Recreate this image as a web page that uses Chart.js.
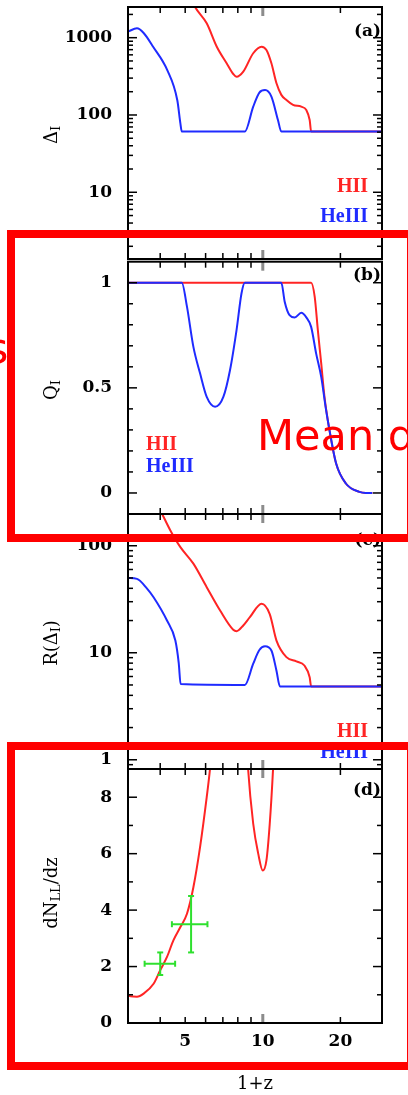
<!DOCTYPE html>
<html>
<head>
<meta charset="utf-8">
<script src="https://cdn.jsdelivr.net/npm/chart.js@4.4.1/dist/chart.umd.min.js"></script>
<style>
  html, body { margin: 0; padding: 0; background: #fff; }
  #wrap { position: relative; width: 408px; height: 1095px; overflow: hidden; }
  #wrap canvas { position: absolute; left: 0; top: 0; }
  .box { position: absolute; border: 8px solid #ff0000; box-sizing: border-box; }
  .note { position: absolute; color: #ff0000; font: 43px "DejaVu Sans"; line-height: 43px; white-space: nowrap; }
</style>
</head>
<body>
<div id="wrap">
  <canvas id="panelA" width="408" height="1095"></canvas>
  <canvas id="panelB" width="408" height="1095"></canvas>
  <canvas id="panelC" width="408" height="1095"></canvas>
  <canvas id="panelD" width="408" height="1095"></canvas>
  <div class="box" style="left:7px;top:230px;width:408px;height:312px"></div>
  <div class="box" style="left:7px;top:742px;width:408px;height:328px"></div>
  <div class="note" style="left:257px;top:414px">Mean d</div>
  <div class="note" style="left:-14px;top:327px">s</div>
</div>
<script>
// (a) Delta_I vs 1+z
const zDeltaHII = [5.3, 5.46, 6.06, 6.63, 7.24, 7.68, 7.91, 8.4, 9.18, 9.89, 10.33, 10.8, 11.3, 11.8, 12.35, 13.1, 14.1, 14.75, 15.2, 15.4, 29];
const deltaHII = [3100, 2500, 1535, 765, 467, 339, 312, 363, 629, 765, 693, 466, 257, 182, 156, 135, 128, 116, 86, 61, 61];
const zDeltaHeIII = [3.0, 3.25, 3.45, 3.76, 4.26, 4.66, 4.79, 4.85, 8.52, 9.18, 9.7, 10.2, 10.8, 11.45, 11.8, 29];
const deltaHeIII = [1200, 1320, 1150, 757, 380, 155, 78, 61, 61, 128, 195, 210, 173, 86, 61, 61];

// (b) Q_I
const zQHII = [3.0, 15.4, 15.9, 16.35, 16.85, 17.35, 18.14, 19.25, 21.0, 23.7, 25.1, 26.6];
const qHII = [1, 1, 0.933, 0.775, 0.616, 0.457, 0.299, 0.14, 0.045, 0.005, 0, 0];
const zQHeIII = [3.0, 4.85, 5.08, 5.38, 5.71, 6.06, 6.53, 7.03, 7.46, 7.91, 8.27, 8.52, 11.8, 12.16, 12.7, 13.3, 14.1, 14.75, 15.4, 16.1, 16.85, 17.6, 18.14, 19.25, 21.0, 23.7, 25.1, 26.6];
const qHeIII = [1, 1, 0.886, 0.695, 0.569, 0.457, 0.41, 0.457, 0.584, 0.775, 0.95, 1, 1, 0.91, 0.846, 0.835, 0.857, 0.835, 0.79, 0.664, 0.552, 0.394, 0.299, 0.14, 0.045, 0.005, 0, 0];

// (c) R(Delta_I)
const zRHII = [4.0, 4.07, 4.38, 4.79, 5.38, 6.06, 6.83, 7.68, 7.91, 8.4, 8.91, 9.89, 10.64, 11.3, 12.35, 13.5, 14.5, 15.2, 15.4, 29];
const rHII = [215, 198, 139, 97, 68, 41, 24.8, 16.4, 15.9, 18, 21.5, 28.7, 23, 13, 9.1, 8.3, 7.6, 5.9, 4.85, 4.85];
const zRHeIII = [3.0, 3.25, 3.55, 3.77, 4.25, 4.58, 4.72, 4.8, 8.52, 9.18, 9.7, 10.2, 10.8, 11.3, 11.65, 29];
const rHeIII = [50, 49, 40, 33, 20, 13, 8, 5.1, 5.0, 7.9, 10.6, 11.5, 10.5, 6.8, 4.85, 4.85];

// (d) dN_LL/dz, model and observed points
const zLLS = [3.0, 3.07, 3.25, 3.45, 3.77, 4.0, 4.25, 4.5, 4.79, 5.08, 5.38, 5.71, 6.06, 6.24, 6.45, 7.5, 8.6, 8.77, 9.18, 9.6, 10.0, 10.33, 10.64, 10.96, 11.15];
const dNdz = [0.97, 0.945, 0.93, 1.04, 1.39, 1.87, 2.34, 2.93, 3.4, 3.87, 4.81, 6.23, 8.0, 9.0, 10.5, null, 10.5, 9.0, 7.06, 6.0, 5.4, 5.76, 7.06, 9.0, 10.5];
const obsZ = [4.0, 5.27];
const obsZlo = [3.48, 4.44];
const obsZhi = [4.57, 6.1];
const obsN = [2.1, 3.5];
const obsNlo = [1.7, 2.5];
const obsNhi = [2.5, 4.5];

const xLabels = [5, 10, 20];
const xMinor = [4, 5, 6, 7, 8, 9, 10, 20];

const RED = '#ff2424';
const BLUE = '#1f2bff';
const GREEN = '#2ee02e';
const TICK_FONT = { family: 'DejaVu Serif', size: 17, weight: 'bold' };

const pts = (xs, ys) => xs.map((x, i) => ({ x: x, y: ys[i] }));
const logMinor = (lo, hi) => {
  const out = [];
  for (let d = 0.1; d <= 1000; d *= 10)
    for (let k = 1; k < 10; k++) {
      const v = +(k * d).toPrecision(3);
      if (v > lo && v < hi) out.push(v);
    }
  return out;
};
const steps = (lo, hi, st) => {
  const out = [];
  for (let v = lo; v <= hi + 1e-9; v += st) out.push(+v.toFixed(3));
  return out;
};

function line(ctx, x1, y1, x2, y2) {
  ctx.beginPath(); ctx.moveTo(x1, y1); ctx.lineTo(x2, y2); ctx.stroke();
}

// box, inward ticks, panel tag, legend text and rotated y title with subscripts
function makeFrame(cfg) {
  return {
    id: 'frame',
    afterDraw(chart) {
      const { ctx, chartArea: a, scales: { x, y } } = chart;
      ctx.save();
      for (const v of xMinor) {
        const px = x.getPixelForValue(v);
        const major = v === 10;
        ctx.strokeStyle = major ? '#8c8c8c' : '#000';
        ctx.lineWidth = major ? 3 : 1.5;
        const len = major ? 9 : 6;
        line(ctx, px, a.top, px, a.top + len);
        line(ctx, px, a.bottom, px, a.bottom - len);
      }
      ctx.strokeStyle = '#000';
      ctx.lineWidth = 1.5;
      for (const v of cfg.yTicks) {
        const py = y.getPixelForValue(v);
        const len = cfg.yMajor.includes(v) ? 9 : 5;
        line(ctx, a.left, py, a.left + len, py);
        line(ctx, a.right, py, a.right - len, py);
      }
      ctx.lineWidth = 2;
      ctx.strokeRect(a.left, a.top, a.width, a.height);

      ctx.fillStyle = '#000';
      ctx.font = 'bold 17px "DejaVu Serif"';
      ctx.textAlign = 'right';
      ctx.textBaseline = 'middle';
      ctx.fillText(cfg.tag, 381, cfg.tagY);

      ctx.font = 'bold 20px "Liberation Serif"';
      for (const l of cfg.legend) {
        ctx.fillStyle = l.color;
        ctx.textAlign = l.align;
        ctx.fillText(l.text, l.x, l.y);
      }

      // y title, rotated
      ctx.translate(52, cfg.titleY);
      ctx.rotate(-Math.PI / 2);
      ctx.fillStyle = '#000';
      ctx.textAlign = 'left';
      ctx.textBaseline = 'middle';
      const big = '18px "DejaVu Serif"', small = '13px "DejaVu Serif"';
      let w = 0;
      for (const s of cfg.title) { ctx.font = s.sub ? small : big; w += ctx.measureText(s.t).width; }
      let cx = -w / 2;
      for (const s of cfg.title) {
        ctx.font = s.sub ? small : big;
        ctx.fillText(s.t, cx, s.sub ? 5 : 0);
        cx += ctx.measureText(s.t).width;
      }
      ctx.restore();
    }
  };
}

function makePanel(id, p) {
  return new Chart(document.getElementById(id), {
    type: 'line',
    data: { datasets: p.datasets },
    options: {
      responsive: false,
      animation: false,
      events: [],
      layout: { padding: { top: p.top, bottom: p.bottom, left: 0, right: 26 } },
      plugins: { legend: { display: false }, tooltip: { enabled: false } },
      elements: {
        point: { radius: 0 },
        line: { borderWidth: 2, cubicInterpolationMode: 'monotone' }
      },
      scales: {
        x: {
          type: 'logarithmic', min: 3, max: 29,
          display: !!p.showX,
          afterBuildTicks: s => { s.ticks = xLabels.map(v => ({ value: v })); },
          afterFit: s => {
            if (p.showX) s.height = 72;
            s.paddingLeft = 0; s.paddingRight = 0;
          },
          grid: { display: false, drawTicks: false },
          border: { display: false },
          ticks: { autoSkip: false, maxRotation: 0, padding: 8, color: '#000', font: TICK_FONT, callback: v => String(v) },
          title: { display: true, text: '1+z', color: '#000', padding: { top: 0, bottom: 0 }, font: { family: 'DejaVu Serif', size: 18 } }
        },
        y: {
          type: p.yType, min: p.yMin, max: p.yMax,
          afterBuildTicks: s => { s.ticks = p.yLabels.map(v => ({ value: v })); },
          afterFit: s => {
            s.width = 128;
            s.paddingTop = 0; s.paddingBottom = 0;
          },
          grid: { display: false, drawTicks: false },
          border: { display: false },
          ticks: { autoSkip: false, padding: 16, color: '#000', font: TICK_FONT, callback: v => String(v) }
        }
      }
    },
    plugins: [makeFrame(p.frame)]
  });
}

const lineSet = (data, color) => ({ data: data, borderColor: color, fill: false, spanGaps: false });

makePanel('panelA', {
  top: 7, bottom: 836, yType: 'logarithmic', yMin: 1.37, yMax: 2495, yLabels: [10, 100, 1000],
  datasets: [lineSet(pts(zDeltaHeIII, deltaHeIII), BLUE), lineSet(pts(zDeltaHII, deltaHII), RED)],
  frame: {
    yTicks: logMinor(1.37, 2495), yMajor: [10, 100, 1000], tag: '(a)', tagY: 32, titleY: 135,
    title: [{ t: 'Δ' }, { t: 'I', sub: true }],
    legend: [
      { text: 'HII', color: RED, x: 368, y: 187, align: 'right' },
      { text: 'HeIII', color: BLUE, x: 368, y: 217, align: 'right' }
    ]
  }
});

makePanel('panelB', {
  top: 261.7, bottom: 581, yType: 'linear', yMin: -0.1, yMax: 1.1, yLabels: [0, 0.5, 1],
  datasets: [lineSet(pts(zQHeIII, qHeIII), BLUE), lineSet(pts(zQHII, qHII), RED)],
  frame: {
    yTicks: steps(0, 1, 0.1), yMajor: [0, 0.5, 1], tag: '(b)', tagY: 276, titleY: 390,
    title: [{ t: 'Q' }, { t: 'I', sub: true }],
    legend: [
      { text: 'HII', color: RED, x: 146, y: 445, align: 'left' },
      { text: 'HeIII', color: BLUE, x: 146, y: 467, align: 'left' }
    ]
  }
});

makePanel('panelC', {
  top: 514, bottom: 326, yType: 'logarithmic', yMin: 0.82, yMax: 198, yLabels: [1, 10, 100],
  datasets: [lineSet(pts(zRHeIII, rHeIII), BLUE), lineSet(pts(zRHII, rHII), RED)],
  frame: {
    yTicks: logMinor(0.82, 198), yMajor: [1, 10, 100], tag: '(c)', tagY: 541, titleY: 643,
    title: [{ t: 'R(Δ' }, { t: 'I', sub: true }, { t: ')' }],
    legend: [
      { text: 'HII', color: RED, x: 368, y: 732, align: 'right' },
      { text: 'HeIII', color: BLUE, x: 368, y: 753, align: 'right' }
    ]
  }
});

// observed points drawn as cross-shaped error bars
const errSets = [];
obsZ.forEach((z, i) => {
  errSets.push({
    data: [{ x: obsZlo[i], y: obsN[i] }, { x: obsZhi[i], y: obsN[i] }],
    borderColor: GREEN, borderWidth: 2, pointStyle: 'line', pointRotation: 90,
    pointRadius: 3, pointBorderWidth: 2, pointBorderColor: GREEN
  });
  errSets.push({
    data: [{ x: z, y: obsNlo[i] }, { x: z, y: obsNhi[i] }],
    borderColor: GREEN, borderWidth: 2, pointStyle: 'line', pointRotation: 0,
    pointRadius: 3, pointBorderWidth: 2, pointBorderColor: GREEN
  });
});

makePanel('panelD', {
  top: 769, bottom: 0, showX: true, yType: 'linear', yMin: 0, yMax: 9, yLabels: [0, 2, 4, 6, 8],
  datasets: errSets.concat([lineSet(pts(zLLS, dNdz), RED)]),
  frame: {
    yTicks: steps(0, 9, 1), yMajor: [0, 2, 4, 6, 8], tag: '(d)', tagY: 791, titleY: 893,
    title: [{ t: 'dN' }, { t: 'LL', sub: true }, { t: '/dz' }],
    legend: []
  }
});
</script>
</body>
</html>
